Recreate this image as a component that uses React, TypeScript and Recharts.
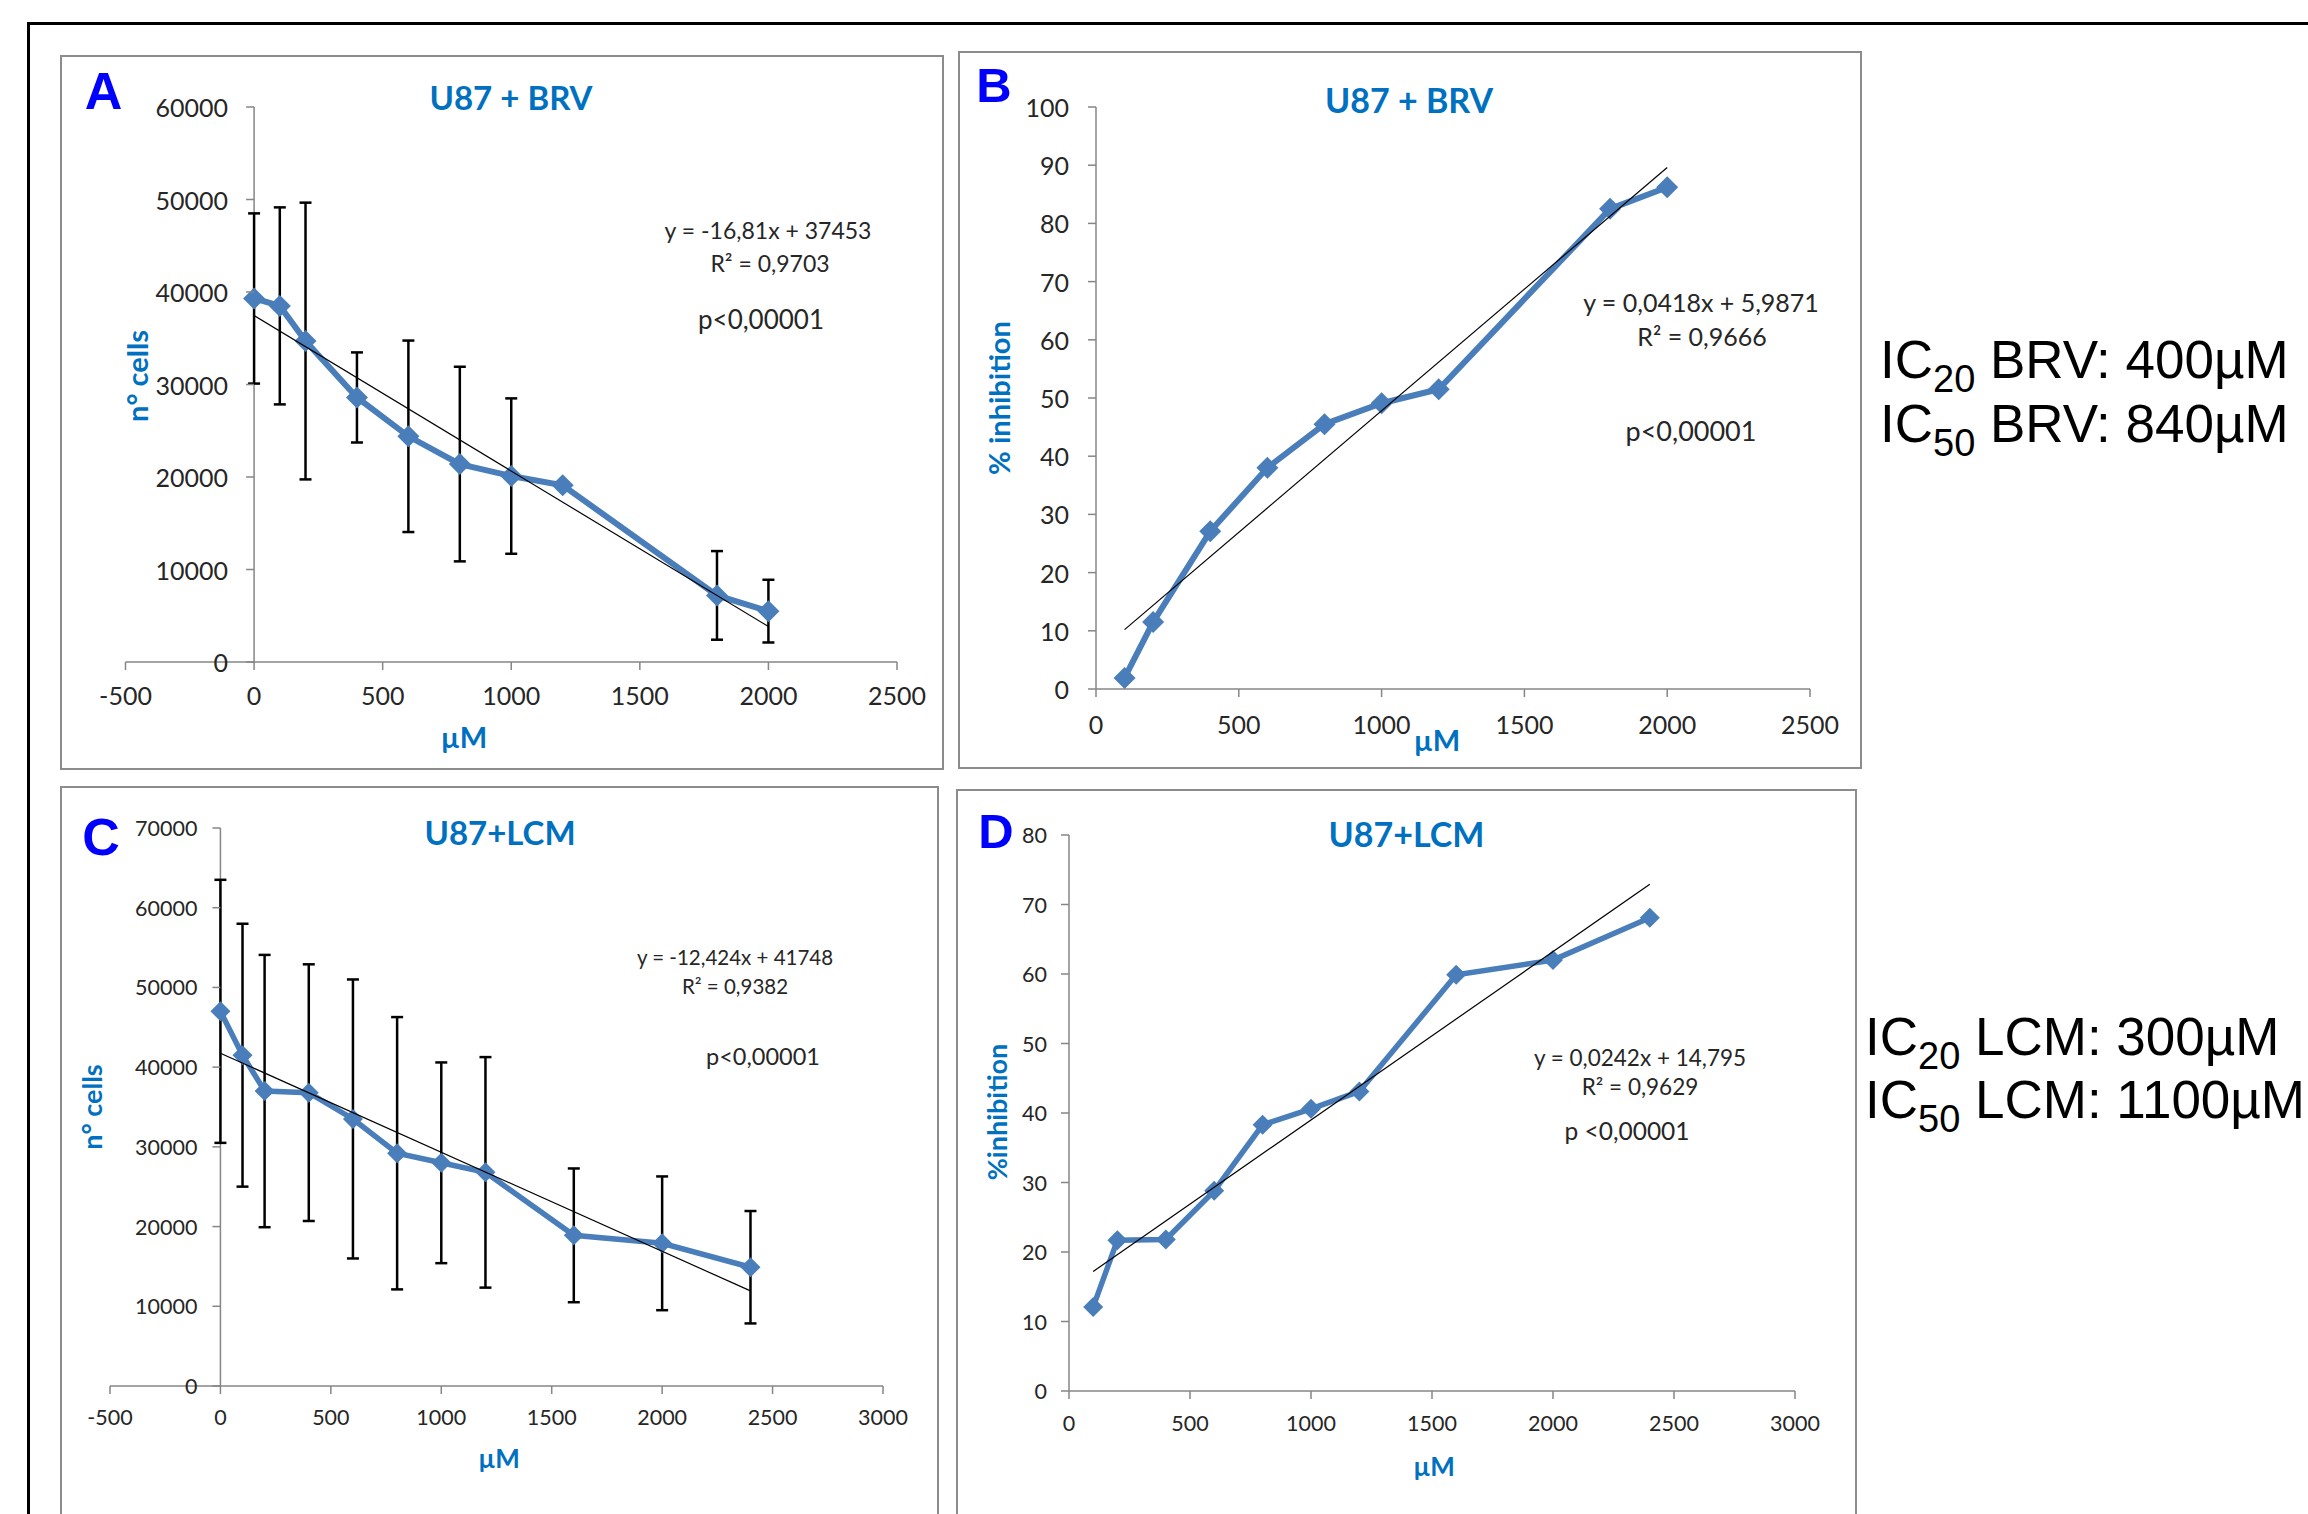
import React from 'react';
import { ScatterChart, Scatter, XAxis, YAxis, ErrorBar, ReferenceLine } from 'recharts';

const PAGE_W = 2308;
const PAGE_H = 1514;
const BLUE = '#4A7EBB';
const TITLE_BLUE = '#0070C0';
const AXIS_GRAY = '#868686';
const BOX_GRAY = '#8C8C8C';
const TEXT = '#262626';
const FONT = 'Lato, "Open Sans", sans-serif';
const ARIAL = '"Liberation Sans", Arial, sans-serif';

// A - U87 + BRV, cell counts
const dosesA = [0, 100, 200, 400, 600, 800, 1000, 1200, 1800, 2000];
const cellsA = [39300, 38500, 34700, 28600, 24400, 21400, 20100, 19100, 7200, 5500];
const sdA = [9200, 10650, 14960, 4870, 10350, 10520, 8400, 0, 4790, 3390];
const trendXA = [0, 2000];
const trendYA = [37453, 3833];
const xTicksA = [-500, 0, 500, 1000, 1500, 2000, 2500];
const yTicksA = [0, 10000, 20000, 30000, 40000, 50000, 60000];

// B - U87 + BRV, % inhibition
const dosesB = [100, 200, 400, 600, 800, 1000, 1200, 1800, 2000];
const inhibB = [1.9, 11.5, 27.1, 38.0, 45.5, 49.1, 51.5, 82.5, 86.2];
const trendXB = [100, 2000];
const trendYB = [10.2, 89.6];
const xTicksB = [0, 500, 1000, 1500, 2000, 2500];
const yTicksB = [0, 10, 20, 30, 40, 50, 60, 70, 80, 90, 100];

// C - U87+LCM, cell counts
const dosesC = [0, 100, 200, 400, 600, 800, 1000, 1200, 1600, 2000, 2400];
const cellsC = [47000, 41500, 37000, 36800, 33500, 29200, 28000, 26800, 18900, 17900, 14900];
const sdC = [16500, 16490, 17080, 16100, 17500, 17080, 12590, 14460, 8390, 8390, 7050];
const trendXC = [0, 2400];
const trendYC = [41748, 11930];
const xTicksC = [-500, 0, 500, 1000, 1500, 2000, 2500, 3000];
const yTicksC = [0, 10000, 20000, 30000, 40000, 50000, 60000, 70000];

// D - U87+LCM, % inhibition
const dosesD = [100, 200, 400, 600, 800, 1000, 1200, 1600, 2000, 2400];
const inhibD = [12.1, 21.7, 21.8, 28.8, 38.3, 40.6, 43.1, 59.9, 62.0, 68.1];
const trendXD = [100, 2400];
const trendYD = [17.2, 72.9];
const xTicksD = [0, 500, 1000, 1500, 2000, 2500, 3000];
const yTicksD = [0, 10, 20, 30, 40, 50, 60, 70, 80];

const toPoints = (xs: number[], ys: number[], errs?: number[]) =>
  xs.map((x, i) => ({ x, y: ys[i], err: errs ? errs[i] : 0 }));

const diamond = (r: number) => (props: any) => {
  const { cx, cy } = props;
  if (cx == null || cy == null) return <g />;
  return <path d={`M${cx},${cy - r}L${cx + r},${cy}L${cx},${cy + r}L${cx - r},${cy}Z`} fill={BLUE} />;
};

interface Rect { left: number; top: number; right: number; bottom: number }

interface PanelProps {
  points: { x: number; y: number; err: number }[];
  trend: { x: number; y: number; err: number }[];
  xTicks: number[];
  yTicks: number[];
  plot: Rect;
  fs: number;
  yGap: number;
  xGap: number;
  lineW: number;
  r: number;
  withErr?: boolean;
}

const Panel = ({ points, trend, xTicks, yTicks, plot, fs, yGap, xGap, lineW, r, withErr }: PanelProps) => {
  const xMin = xTicks[0];
  const xMax = xTicks[xTicks.length - 1];
  // y axis crosses at x = 0
  const axisX = plot.left + ((plot.right - plot.left) * (0 - xMin)) / (xMax - xMin);
  const yTick = (p: any) => (
    <g>
      <line x1={axisX - 8} x2={axisX} y1={p.y} y2={p.y} stroke={AXIS_GRAY} strokeWidth={1.5} />
      <text x={axisX - yGap} y={p.y} textAnchor="end" dominantBaseline="central" fill={TEXT} fontSize={fs} fontFamily={FONT}>
        {p.payload.value}
      </text>
    </g>
  );
  return (
    <div style={{ position: 'absolute', left: 0, top: 0 }}>
      <ScatterChart
        width={PAGE_W}
        height={PAGE_H}
        margin={{ top: plot.top, right: PAGE_W - plot.right, bottom: PAGE_H - plot.bottom - 60, left: plot.left - 10 }}
      >
        <XAxis
          type="number"
          dataKey="x"
          domain={[xMin, xMax]}
          ticks={xTicks}
          interval={0}
          height={60}
          tickSize={8}
          tickMargin={xGap}
          axisLine={{ stroke: AXIS_GRAY, strokeWidth: 1.5 }}
          tickLine={{ stroke: AXIS_GRAY, strokeWidth: 1.5 }}
          tick={{ fill: TEXT, fontSize: fs, fontFamily: FONT }}
        />
        <YAxis
          type="number"
          dataKey="y"
          domain={[yTicks[0], yTicks[yTicks.length - 1]]}
          ticks={yTicks}
          interval={0}
          width={10}
          axisLine={false}
          tickLine={false}
          tick={yTick}
        />
        <ReferenceLine x={0} stroke={AXIS_GRAY} strokeWidth={1.5} />
        <Scatter data={points} line={{ stroke: BLUE, strokeWidth: lineW }} shape={diamond(r)} isAnimationActive={false}>
          {withErr && <ErrorBar dataKey="err" direction="y" width={6} stroke="#000" strokeWidth={2.5} />}
        </Scatter>
        <Scatter data={trend} line={{ stroke: '#000', strokeWidth: 1.2 }} shape={() => <g />} isAnimationActive={false} />
      </ScatterChart>
    </div>
  );
};

const Txt = ({ x, y, size, color = TEXT, bold = false, rotate = false, family = FONT, children }: any) => (
  <div
    style={{
      position: 'absolute',
      left: x,
      top: y,
      transform: `translate(-50%, -50%)${rotate ? ' rotate(-90deg)' : ''}`,
      fontSize: size,
      fontWeight: bold ? 700 : 400,
      color,
      fontFamily: family,
      lineHeight: 1,
      whiteSpace: 'nowrap',
    }}
  >
    {children}
  </div>
);

const IcLine = ({ x, baseline, sub, rest }: any) => (
  <div
    style={{
      position: 'absolute',
      left: x,
      top: baseline - 45,
      fontFamily: ARIAL,
      fontSize: 53,
      lineHeight: '53px',
      color: '#000',
      whiteSpace: 'nowrap',
    }}
  >
    IC<span style={{ fontSize: 38, position: 'relative', top: 14 }}>{sub}</span> {rest}
  </div>
);

const Box = ({ l, t, r, b }: any) => (
  <div
    style={{
      position: 'absolute',
      left: l,
      top: t,
      width: r - l,
      height: b - t,
      border: `2.5px solid ${BOX_GRAY}`,
      boxSizing: 'border-box',
    }}
  />
);

export default function App() {
  return (
    <div style={{ position: 'absolute', left: 0, top: 0, width: PAGE_W, height: PAGE_H, background: '#fff', overflow: 'hidden' }}>
      {/* outer frame */}
      <div style={{ position: 'absolute', left: 27, top: 22, width: PAGE_W - 27, height: 3, background: '#000' }} />
      <div style={{ position: 'absolute', left: 27, top: 22, width: 3, height: PAGE_H - 22, background: '#000' }} />

      <Box l={60} t={55} r={944} b={770} />
      <Box l={958} t={51} r={1862} b={769} />
      <Box l={60} t={786} r={939} b={1540} />
      <Box l={956} t={789} r={1857} b={1540} />

      <Panel
        points={toPoints(dosesA, cellsA, sdA)}
        trend={toPoints(trendXA, trendYA)}
        xTicks={xTicksA}
        yTicks={yTicksA}
        plot={{ left: 125.5, top: 107, right: 897, bottom: 662 }}
        fs={25}
        yGap={26}
        xGap={17}
        lineW={6}
        r={11}
        withErr
      />
      <Panel
        points={toPoints(dosesB, inhibB)}
        trend={toPoints(trendXB, trendYB)}
        xTicks={xTicksB}
        yTicks={yTicksB}
        plot={{ left: 1096, top: 107, right: 1810, bottom: 689 }}
        fs={25}
        yGap={27}
        xGap={19}
        lineW={6}
        r={11}
      />
      <Panel
        points={toPoints(dosesC, cellsC, sdC)}
        trend={toPoints(trendXC, trendYC)}
        xTicks={xTicksC}
        yTicks={yTicksC}
        plot={{ left: 110, top: 828, right: 883, bottom: 1386 }}
        fs={21.5}
        yGap={23}
        xGap={16}
        lineW={5.5}
        r={10}
        withErr
      />
      <Panel
        points={toPoints(dosesD, inhibD)}
        trend={toPoints(trendXD, trendYD)}
        xTicks={xTicksD}
        yTicks={yTicksD}
        plot={{ left: 1069, top: 835, right: 1795, bottom: 1391 }}
        fs={21.5}
        yGap={22}
        xGap={17}
        lineW={5.5}
        r={10}
      />

      {/* panel letters */}
      <Txt x={103.5} y={90.5} size={52} color="#0000FF" bold family={ARIAL}>A</Txt>
      <Txt x={994} y={84.5} size={49} color="#0000FF" bold family={ARIAL}>B</Txt>
      <Txt x={101} y={837} size={52} color="#0000FF" bold family={ARIAL}>C</Txt>
      <Txt x={996} y={830.5} size={49} color="#0000FF" bold family={ARIAL}>D</Txt>

      {/* titles */}
      <Txt x={511} y={97} size={33} color={TITLE_BLUE} bold>U87 + BRV</Txt>
      <Txt x={1409} y={99.5} size={34} color={TITLE_BLUE} bold>U87 + BRV</Txt>
      <Txt x={500} y={832} size={33} color={TITLE_BLUE} bold>U87+LCM</Txt>
      <Txt x={1406.5} y={834} size={34} color={TITLE_BLUE} bold>U87+LCM</Txt>

      {/* axis titles */}
      <Txt x={464} y={736} size={29} color={TITLE_BLUE} bold>µM</Txt>
      <Txt x={136} y={376} size={29} color={TITLE_BLUE} bold rotate>n° cells</Txt>
      <Txt x={1437} y={739} size={29} color={TITLE_BLUE} bold>µM</Txt>
      <Txt x={998} y={398} size={29} color={TITLE_BLUE} bold rotate>% inhibition</Txt>
      <Txt x={499} y={1458} size={26} color={TITLE_BLUE} bold>µM</Txt>
      <Txt x={91} y={1107} size={27} color={TITLE_BLUE} bold rotate>n° cells</Txt>
      <Txt x={1434} y={1466} size={26} color={TITLE_BLUE} bold>µM</Txt>
      <Txt x={996} y={1112} size={27} color={TITLE_BLUE} bold rotate>%inhibition</Txt>

      {/* trendline equations */}
      <Txt x={768} y={230} size={23}>y = -16,81x + 37453</Txt>
      <Txt x={770} y={263} size={23}>R² = 0,9703</Txt>
      <Txt x={761} y={319} size={26}>p&lt;0,00001</Txt>

      <Txt x={1701} y={302} size={25}>y = 0,0418x + 5,9871</Txt>
      <Txt x={1702} y={336} size={25}>R² = 0,9666</Txt>
      <Txt x={1691} y={430} size={27}>p&lt;0,00001</Txt>

      <Txt x={735} y={957} size={20.5}>y = -12,424x + 41748</Txt>
      <Txt x={735} y={986} size={20.5}>R² = 0,9382</Txt>
      <Txt x={763} y={1057} size={23.5}>p&lt;0,00001</Txt>

      <Txt x={1640} y={1058} size={22.5}>y = 0,0242x + 14,795</Txt>
      <Txt x={1640} y={1087} size={22.5}>R² = 0,9629</Txt>
      <Txt x={1627} y={1130.5} size={24.5}>p &lt;0,00001</Txt>

      {/* IC values */}
      <IcLine x={1880} baseline={378} sub="20" rest="BRV: 400µM" />
      <IcLine x={1880} baseline={442} sub="50" rest="BRV: 840µM" />
      <IcLine x={1865} baseline={1055} sub="20" rest="LCM: 300µM" />
      <IcLine x={1865} baseline={1118} sub="50" rest="LCM: 1100µM" />
    </div>
  );
}
